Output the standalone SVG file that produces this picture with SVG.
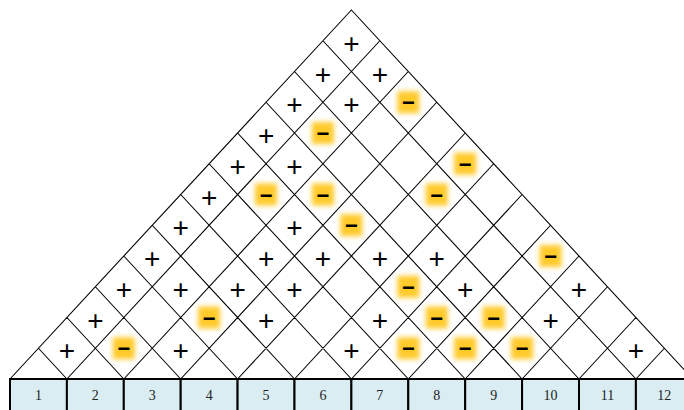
<svg xmlns="http://www.w3.org/2000/svg" width="684" height="410" viewBox="0 0 684 410">
<defs>
<style>
.grid{fill:none;stroke:#000;stroke-width:1.1;stroke-linecap:round}
.p{font-family:"Liberation Sans",Arial,sans-serif;font-size:28px;text-anchor:middle;fill:#000}
.m{font-family:"Liberation Sans",Arial,sans-serif;font-size:22px;font-weight:bold;text-anchor:middle;fill:#000}
.hl{fill:#ffca2c;filter:url(#glow)}
.box rect{fill:#daedf3;stroke:#000;stroke-width:2}
.box text{font-family:"Liberation Serif","Times New Roman",serif;font-size:14px;text-anchor:middle;fill:#222}
</style>
<filter id="glow" x="-50%" y="-50%" width="200%" height="200%"><feGaussianBlur stdDeviation="2.6"/></filter>
<g id="plus"><text class="p" x="0" y="12.2">+</text></g>
<g id="minus"><rect class="hl" x="-11" y="-11" width="22" height="22"/><text class="m" x="0" y="8.2">−</text></g>
</defs>
<rect width="684" height="410" fill="#fff"/>

<g id="boxes">
<g class="box" id="box1"><rect x="10" y="379" width="56.9" height="40"/><text x="38.45" y="400">1</text></g>
<g class="box" id="box2"><rect x="66.9" y="379" width="56.9" height="40"/><text x="95.35" y="400">2</text></g>
<g class="box" id="box3"><rect x="123.8" y="379" width="56.9" height="40"/><text x="152.25" y="400">3</text></g>
<g class="box" id="box4"><rect x="180.7" y="379" width="56.9" height="40"/><text x="209.15" y="400">4</text></g>
<g class="box" id="box5"><rect x="237.6" y="379" width="56.9" height="40"/><text x="266.05" y="400">5</text></g>
<g class="box" id="box6"><rect x="294.5" y="379" width="56.9" height="40"/><text x="322.95" y="400">6</text></g>
<g class="box" id="box7"><rect x="351.4" y="379" width="56.9" height="40"/><text x="379.85" y="400">7</text></g>
<g class="box" id="box8"><rect x="408.3" y="379" width="56.9" height="40"/><text x="436.75" y="400">8</text></g>
<g class="box" id="box9"><rect x="465.2" y="379" width="56.9" height="40"/><text x="493.65" y="400">9</text></g>
<g class="box" id="box10"><rect x="522.1" y="379" width="56.9" height="40"/><text x="550.55" y="400">10</text></g>
<g class="box" id="box11"><rect x="579" y="379" width="56.9" height="40"/><text x="607.45" y="400">11</text></g>
<g class="box" id="box12"><rect x="635.9" y="379" width="56.9" height="40"/><text x="664.35" y="400">12</text></g>
</g>

<g id="connectors">
<path class="grid" d="M10,379L351.4,10 M66.9,379L379.85,40.75 M123.8,379L408.3,71.5 M180.7,379L436.75,102.25 M237.6,379L465.2,133 M294.5,379L493.65,163.75 M351.4,379L522.1,194.5 M408.3,379L550.55,225.25 M465.2,379L579,256 M522.1,379L607.45,286.75 M579,379L635.9,317.5 M635.9,379L664.35,348.25
M66.9,379L38.45,348.25 M123.8,379L66.9,317.5 M180.7,379L95.35,286.75 M237.6,379L123.8,256 M294.5,379L152.25,225.25 M351.4,379L180.7,194.5 M408.3,379L209.15,163.75 M465.2,379L237.6,133 M522.1,379L266.05,102.25 M579,379L294.5,71.5 M635.9,379L322.95,40.75 M692.8,379L351.4,10"/>
</g>

<g id="cells">
<!-- row 1 -->
<use id="c1_1" href="#plus" x="66.9" y="348.25"/>
<use id="c1_2" href="#minus" x="123.8" y="348.25"/>
<use id="c1_3" href="#plus" x="180.7" y="348.25"/>
<use id="c1_6" href="#plus" x="351.4" y="348.25"/>
<use id="c1_7" href="#minus" x="408.3" y="348.25"/>
<use id="c1_8" href="#minus" x="465.2" y="348.25"/>
<use id="c1_9" href="#minus" x="522.1" y="348.25"/>
<use id="c1_11" href="#plus" x="635.9" y="348.25"/>
<!-- row 2 -->
<use id="c2_1" href="#plus" x="95.35" y="317.5"/>
<use id="c2_3" href="#minus" x="209.15" y="317.5"/>
<use id="c2_4" href="#plus" x="266.05" y="317.5"/>
<use id="c2_6" href="#plus" x="379.85" y="317.5"/>
<use id="c2_7" href="#minus" x="436.75" y="317.5"/>
<use id="c2_8" href="#minus" x="493.65" y="317.5"/>
<use id="c2_9" href="#plus" x="550.55" y="317.5"/>
<!-- row 3 -->
<use id="c3_1" href="#plus" x="123.8" y="286.75"/>
<use id="c3_2" href="#plus" x="180.7" y="286.75"/>
<use id="c3_3" href="#plus" x="237.6" y="286.75"/>
<use id="c3_4" href="#plus" x="294.5" y="286.75"/>
<use id="c3_6" href="#minus" x="408.3" y="286.75"/>
<use id="c3_7" href="#plus" x="465.2" y="286.75"/>
<use id="c3_9" href="#plus" x="579" y="286.75"/>
<!-- row 4 -->
<use id="c4_1" href="#plus" x="152.25" y="256"/>
<use id="c4_3" href="#plus" x="266.05" y="256"/>
<use id="c4_4" href="#plus" x="322.95" y="256"/>
<use id="c4_5" href="#plus" x="379.85" y="256"/>
<use id="c4_6" href="#plus" x="436.75" y="256"/>
<use id="c4_8" href="#minus" x="550.55" y="256"/>
<!-- row 5 -->
<use id="c5_1" href="#plus" x="180.7" y="225.25"/>
<use id="c5_3" href="#plus" x="294.5" y="225.25"/>
<use id="c5_4" href="#minus" x="351.4" y="225.25"/>
<!-- row 6 -->
<use id="c6_1" href="#plus" x="209.15" y="194.5"/>
<use id="c6_2" href="#minus" x="266.05" y="194.5"/>
<use id="c6_3" href="#minus" x="322.95" y="194.5"/>
<use id="c6_5" href="#minus" x="436.75" y="194.5"/>
<!-- row 7 -->
<use id="c7_1" href="#plus" x="237.6" y="163.75"/>
<use id="c7_2" href="#plus" x="294.5" y="163.75"/>
<use id="c7_5" href="#minus" x="465.2" y="163.75"/>
<!-- row 8 -->
<use id="c8_1" href="#plus" x="266.05" y="133"/>
<use id="c8_2" href="#minus" x="322.95" y="133"/>
<!-- row 9 -->
<use id="c9_1" href="#plus" x="294.5" y="102.25"/>
<use id="c9_2" href="#plus" x="351.4" y="102.25"/>
<use id="c9_3" href="#minus" x="408.3" y="102.25"/>
<!-- row 10 -->
<use id="c10_1" href="#plus" x="322.95" y="71.5"/>
<use id="c10_2" href="#plus" x="379.85" y="71.5"/>
<!-- row 11 -->
<use id="c11_1" href="#plus" x="351.4" y="40.75"/>
</g>
</svg>
